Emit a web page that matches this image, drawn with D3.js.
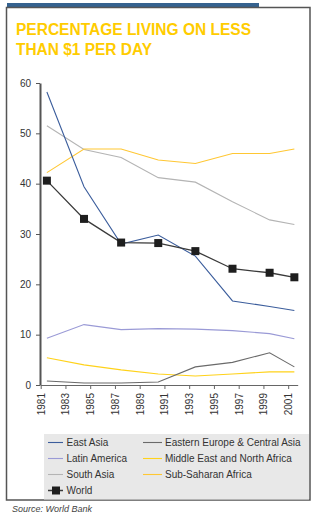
<!DOCTYPE html>
<html>
<head>
<meta charset="utf-8">
<script src="https://cdn.jsdelivr.net/npm/d3@7"></script>
<style>
  html, body { margin: 0; padding: 0; background: #fff; }
  svg { display: block; }
</style>
</head>
<body>
<svg id="chart" width="326" height="519"></svg>
<script>
const years = [1981, 1984, 1987, 1990, 1993, 1996, 1999, 2001];
const tickYears = [1981, 1983, 1985, 1987, 1989, 1991, 1993, 1995, 1997, 1999, 2001];
const yTicks = [0, 10, 20, 30, 40, 50, 60];
const titleLines = ["PERCENTAGE LIVING ON LESS", "THAN $1 PER DAY"];
const sourceText = "Source: World Bank";

const seriesNames = ["East Asia", "Latin America", "South Asia", "World",
  "Eastern Europe & Central Asia", "Middle East and North Africa", "Sub-Saharan Africa"];
const eastAsia = [58.2, 39.4, 28.0, 29.8, 25.6, 16.7, 15.6, 14.8];
const latinAmerica = [9.3, 12.0, 11.0, 11.2, 11.1, 10.8, 10.2, 9.2];
const southAsia = [51.5, 46.8, 45.2, 41.2, 40.3, 36.4, 32.8, 31.9];
const world = [40.6, 33.0, 28.3, 28.2, 26.6, 23.1, 22.3, 21.4];
const easternEurope = [0.8, 0.4, 0.4, 0.6, 3.6, 4.5, 6.4, 3.6];
const middleEast = [5.4, 4.0, 3.0, 2.2, 1.8, 2.2, 2.6, 2.6];
const subSaharan = [42.2, 46.9, 46.9, 44.7, 44.0, 46.0, 46.0, 46.9];

const colors = {
  "East Asia": "#3b5d9c",
  "Latin America": "#9a9ad6",
  "South Asia": "#b4b4b4",
  "World": "#3a3a3a",
  "Eastern Europe & Central Asia": "#6a6a6a",
  "Middle East and North Africa": "#ffd21a",
  "Sub-Saharan Africa": "#ffc733"
};
const valuesByName = {
  "East Asia": eastAsia,
  "Latin America": latinAmerica,
  "South Asia": southAsia,
  "World": world,
  "Eastern Europe & Central Asia": easternEurope,
  "Middle East and North Africa": middleEast,
  "Sub-Saharan Africa": subSaharan
};

const svg = d3.select("#chart");
const font = "'Liberation Sans', Arial, sans-serif";

// top blue bar and outer frame
svg.append("rect").attr("x", 7).attr("y", 3).attr("width", 252).attr("height", 4).attr("fill", "#35628f");
svg.append("rect").attr("x", 6.5).attr("y", 7.5).attr("width", 303.5).attr("height", 492.5)
  .attr("fill", "none").attr("stroke", "#555").attr("stroke-width", 1.5);

// title
const tl = [{t: titleLines[0], y: 35, w: 235}, {t: titleLines[1], y: 55, w: 136}];
svg.selectAll("text.title").data(tl).join("text")
  .attr("class", "title")
  .attr("x", 16).attr("y", d => d.y)
  .attr("textLength", d => d.w).attr("lengthAdjust", "spacingAndGlyphs")
  .attr("font-family", font).attr("font-weight", "bold").attr("font-size", 16)
  .attr("fill", "#ffcc00").text(d => d.t);

// scales
const x = d3.scaleLinear().domain([1981, 2001.77]).range([40.7, 297.7]);
const y = d3.scaleLinear().domain([0, 60]).range([385, 83]);

// x axis
const xAxis = svg.append("g").attr("transform", "translate(0,385)")
  .call(d3.axisBottom(x).tickValues(tickYears).tickFormat(d3.format("d")).tickSize(4).tickSizeOuter(0));
xAxis.select(".domain").attr("stroke", "#666");
xAxis.selectAll(".tick line").attr("stroke", "#666");
xAxis.selectAll(".tick text")
  .attr("font-family", font).attr("font-size", 10).attr("fill", "#333")
  .attr("transform", "rotate(-90)")
  .attr("text-anchor", "end")
  .attr("x", -8).attr("y", 0).attr("dy", "0.35em");

// y axis
const yAxis = svg.append("g").attr("transform", "translate(40,0)")
  .call(d3.axisLeft(y).tickValues(yTicks).tickSize(4).tickSizeOuter(0).tickPadding(5));
yAxis.select(".domain").attr("stroke", "#555").attr("stroke-width", 2);
yAxis.selectAll(".tick line").attr("stroke", "#555");
yAxis.selectAll(".tick text").attr("font-family", font).attr("font-size", 10).attr("fill", "#333");

// lines
const line = d3.line().x((d, i) => x(years[i] + 0.5)).y(d => y(d));
const drawOrder = ["Latin America", "Middle East and North Africa", "Eastern Europe & Central Asia",
  "South Asia", "Sub-Saharan Africa", "East Asia", "World"];
drawOrder.forEach(name => {
  svg.append("path").datum(valuesByName[name])
    .attr("d", line).attr("fill", "none")
    .attr("stroke", colors[name]).attr("stroke-width", name === "World" ? 1.3 : 1.1);
});
svg.selectAll("rect.marker").data(world).join("rect")
  .attr("class", "marker")
  .attr("x", (d, i) => x(years[i] + 0.5) - 4)
  .attr("y", d => y(d) - 4)
  .attr("width", 8).attr("height", 8).attr("fill", "#1e1e1e");

// legend
svg.append("rect").attr("x", 44).attr("y", 434).attr("width", 265).attr("height", 65.5).attr("fill", "#e8e8e8");
const legendItems = seriesNames.map((name, i) => {
  const col = i < 4 ? 0 : 1;
  const row = i < 4 ? i : i - 4;
  return {name, col, row};
});
const lg = svg.selectAll("g.leg").data(legendItems).join("g")
  .attr("class", "leg")
  .attr("transform", d => `translate(${d.col === 0 ? 48 : 143},${442.5 + d.row * 16})`);
lg.append("line").attr("x1", 0).attr("x2", d => d.col === 0 ? 15 : 19)
  .attr("stroke", d => colors[d.name]).attr("stroke-width", d => d.name === "World" ? 1.5 : 1.1);
lg.filter(d => d.name === "World").append("rect")
  .attr("x", 4).attr("y", -4).attr("width", 8).attr("height", 8).attr("fill", "#1e1e1e");
lg.append("text").attr("x", d => d.col === 0 ? 18.5 : 22)
  .attr("dy", "0.35em").attr("font-family", font).attr("font-size", 10).attr("fill", "#333")
  .text(d => d.name);

// source
svg.append("text").attr("x", 12).attr("y", 512)
  .attr("font-family", font).attr("font-style", "italic").attr("font-size", 9).attr("fill", "#444")
  .text(sourceText);
</script>
</body>
</html>
